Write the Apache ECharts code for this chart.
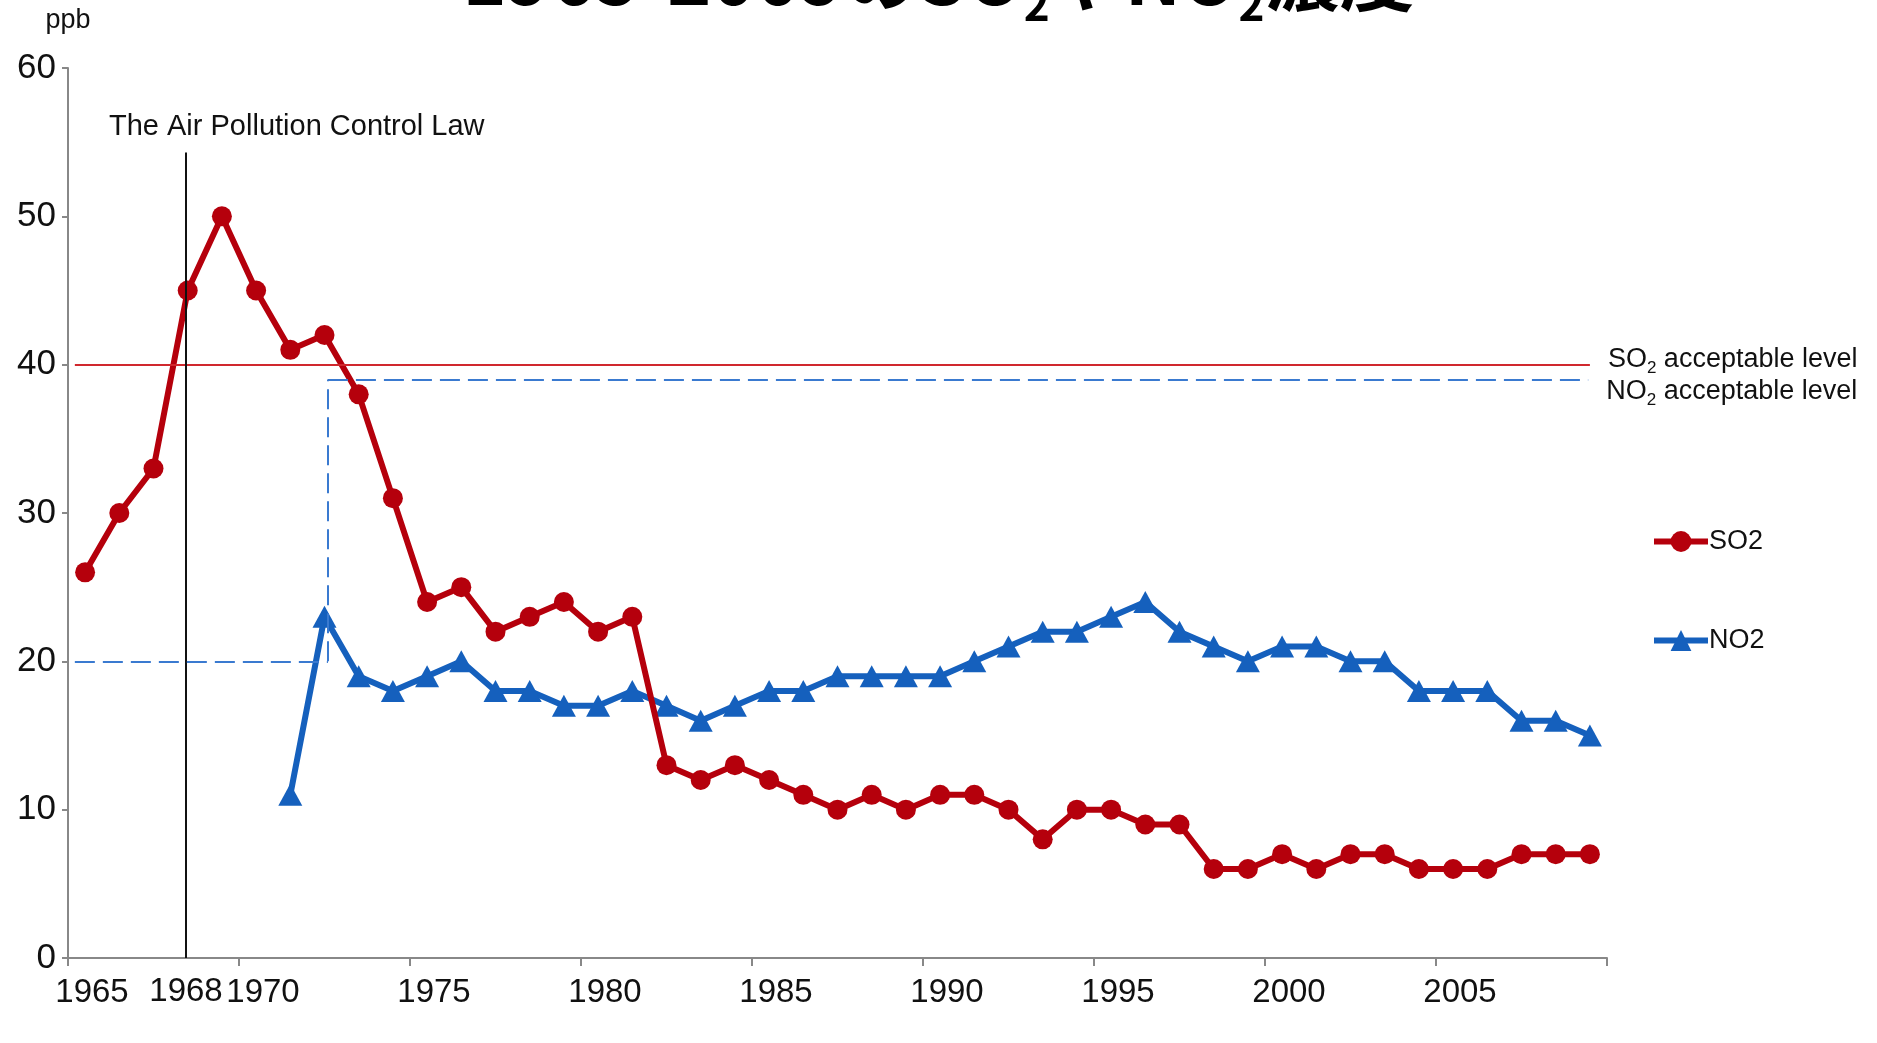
<!DOCTYPE html>
<html>
<head>
<meta charset="utf-8">
<script src="https://cdn.jsdelivr.net/npm/echarts@6/dist/echarts.min.js"></script>
<style>
html, body { margin: 0; padding: 0; background: #fff; }
#main { width: 1877px; height: 1043px; }
</style>
</head>
<body>
<div id="main"></div>
<script>
// 年 (各点は年の中央に置く)
const years = [1965, 1966, 1967, 1968, 1969, 1970, 1971, 1972, 1973, 1974,
  1975, 1976, 1977, 1978, 1979, 1980, 1981, 1982, 1983, 1984,
  1985, 1986, 1987, 1988, 1989, 1990, 1991, 1992, 1993, 1994,
  1995, 1996, 1997, 1998, 1999, 2000, 2001, 2002, 2003, 2004,
  2005, 2006, 2007, 2008, 2009];
const so2 = [26, 30, 33, 45, 50, 45, 41, 42, 38, 31,
  24, 25, 22, 23, 24, 22, 23, 13, 12, 13,
  12, 11, 10, 11, 10, 11, 11, 10, 8, 10,
  10, 9, 9, 6, 6, 7, 6, 7, 7, 6,
  6, 6, 7, 7, 7];
const no2 = [null, null, null, null, null, null, 11, 23, 19, 18,
  19, 20, 18, 18, 17, 17, 18, 17, 16, 17,
  18, 18, 19, 19, 19, 19, 20, 21, 22, 22,
  23, 24, 22, 21, 20, 21, 21, 20, 20, 18,
  18, 18, 16, 16, 15];
const xTickLabels = ['1965', '1970', '1975', '1980', '1985', '1990', '1995', '2000', '2005'];
const lawYear = 1968;
const so2Level = 40;
const no2LevelOld = 20;
const no2LevelNew = 39;
const no2LevelChange = 1972.6;

const font = "'Liberation Sans', Arial, Helvetica, sans-serif";
const red = '#b5000c';
const blue = '#1560bd';
const ink = '#111';

const myChart = echarts.init(document.getElementById('main'));
const option = {
  animation: false,
  backgroundColor: '#fff',
  title: {
    text: '{m|1965-2009の}{m|SO}{s|2}{m|や}{m|NO}{s|2}{m|濃度}',
    left: 'center',
    top: -79,
    textStyle: {
      rich: {
        m: { fontSize: 75, lineHeight: 100, color: '#000', fontFamily: "'Noto Sans CJK JP', sans-serif" },
        s: { fontSize: 44, lineHeight: 44, verticalAlign: 'bottom', color: '#000', fontFamily: "'Noto Sans CJK JP', sans-serif" }
      }
    }
  },
  grid: { left: 68, right: 270, top: 68, bottom: 85 },
  legend: {
    orient: 'vertical',
    left: 1646,
    top: 523,
    itemGap: 72,
    itemWidth: 54,
    itemHeight: 26,
    lineStyle: { width: 6 },
    textStyle: { fontSize: 27, fontFamily: font, color: ink, padding: [0, 0, 0, -4] },
    data: ['SO2', 'NO2']
  },
  xAxis: {
    type: 'value',
    min: 1965,
    max: 2010,
    interval: 5,
    axisLine: { show: true, lineStyle: { color: '#888', width: 2 } },
    axisTick: { show: true, length: 8, lineStyle: { color: '#888', width: 2 } },
    splitLine: { show: false },
    axisLabel: {
      margin: 18,
      fontSize: 33,
      fontFamily: font,
      color: ink,
      padding: [0, 0, 0, 48],
      formatter: v => xTickLabels.indexOf(String(v)) >= 0 ? String(v) : ''
    }
  },
  yAxis: {
    type: 'value',
    min: 0,
    max: 60,
    interval: 10,
    name: 'ppb',
    nameLocation: 'end',
    nameGap: 34,
    nameTextStyle: { fontSize: 27, fontFamily: font, color: ink, align: 'center' },
    axisLine: { show: true, lineStyle: { color: '#888', width: 2 } },
    axisTick: { show: true, length: 6, lineStyle: { color: '#888', width: 2 } },
    splitLine: { show: false },
    axisLabel: { margin: 12, fontSize: 35, fontFamily: font, color: ink }
  },
  series: [
    {
      name: 'SO2',
      type: 'line',
      data: years.map((y, i) => [y + 0.5, so2[i]]),
      symbol: 'circle',
      symbolSize: 20,
      lineStyle: { color: red, width: 6 },
      itemStyle: { color: red },
      z: 3,
      markLine: {
        silent: true,
        symbol: 'none',
        animation: false,
        data: [
          [
            { coord: [1965.2, so2Level], lineStyle: { color: '#d0282e', width: 2, type: 'solid' },
              label: {
                show: true, position: 'end', distance: 18,
                padding: [0, 0, 10, 0],
                formatter: '{a|SO}{s|2}{a| acceptable level}',
                rich: {
                  a: { fontSize: 27, lineHeight: 34, fontFamily: font, color: ink },
                  s: { fontSize: 17, lineHeight: 17, verticalAlign: 'bottom', fontFamily: font, color: ink }
                }
              } },
            { coord: [2009.5, so2Level] }
          ],
          [
            { coord: [lawYear + 0.45, 54.3], lineStyle: { color: '#111', width: 2, type: 'solid' }, label: { show: false } },
            { coord: [lawYear + 0.45, 0] }
          ]
        ]
      },
      markPoint: {
        silent: true,
        symbol: 'circle',
        symbolSize: 1,
        itemStyle: { color: 'rgba(0,0,0,0)' },
        data: [
          { coord: [lawYear + 0.45, 54.3],
            label: { show: true, position: 'inside', align: 'left', offset: [-77, -26],
              formatter: 'The Air Pollution Control Law', fontSize: 29, fontFamily: font, color: ink } },
          { coord: [lawYear + 0.45, 0],
            label: { show: true, position: 'inside', offset: [0, 34],
              formatter: String(lawYear), fontSize: 33, fontFamily: font, color: ink } }
        ]
      }
    },
    {
      name: 'NO2',
      type: 'line',
      data: years.map((y, i) => [y + 0.5, no2[i]]),
      symbol: 'triangle',
      symbolSize: [24, 22],
      lineStyle: { color: blue, width: 6 },
      itemStyle: { color: blue },
      z: 2,
      markLine: {
        silent: true,
        symbol: 'none',
        animation: false,
        lineStyle: { color: '#3a7ad0', width: 2, type: [20, 8] },
        data: [
          [
            { coord: [1965.2, no2LevelOld], label: { show: false } },
            { coord: [no2LevelChange, no2LevelOld] }
          ],
          [
            { coord: [no2LevelChange, no2LevelOld], label: { show: false } },
            { coord: [no2LevelChange, no2LevelNew] }
          ],
          [
            { coord: [no2LevelChange, no2LevelNew],
              label: {
                show: true, position: 'end', distance: 18,
                padding: [24, 0, 0, 0],
                formatter: '{a|NO}{s|2}{a| acceptable level}',
                rich: {
                  a: { fontSize: 27, lineHeight: 34, fontFamily: font, color: ink },
                  s: { fontSize: 17, lineHeight: 17, verticalAlign: 'bottom', fontFamily: font, color: ink }
                }
              } },
            { coord: [2009.45, no2LevelNew] }
          ]
        ]
      }
    }
  ]
};
myChart.setOption(option);
</script>
</body>
</html>
